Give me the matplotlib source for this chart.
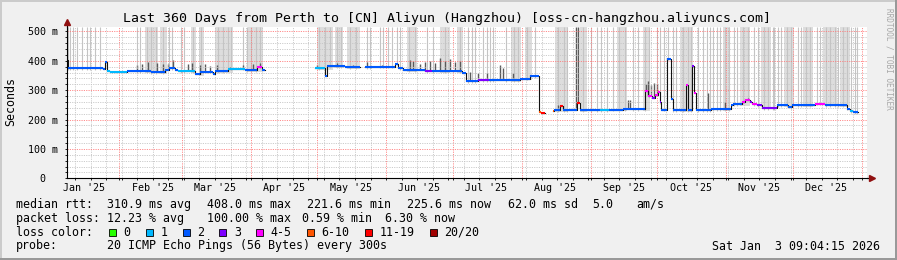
import numpy as np
import pandas as pd
import matplotlib
matplotlib.use('Agg')
import matplotlib.pyplot as plt
import matplotlib.dates as mdates
from matplotlib.ticker import MultipleLocator, FuncFormatter, NullFormatter
from matplotlib.patches import Rectangle

plt.rcParams['font.family'] = 'DejaVu Sans Mono'

W, H = 897, 260

start = pd.Timestamp('2025-01-08 09:04:15')
end = pd.Timestamp('2026-01-03 09:04:15')

# median rtt (ms), stepwise: day offset from start, value, loss class (index into loss colours)
med_day = [0.0, 0.5, 16.2, 17.1, 18.0, 19.4, 27.0, 38.0, 44.1, 46.0,
           48.6, 50.0, 57.6, 59.9, 65.7, 66.6, 72.5, 80.1, 85.5, 87.8, 89.1,
           111.6, 116.1, 117.0, 125.1, 131.9, 134.1, 140.0, 147.6, 149.0, 151.2,
           161.1, 164.3, 177.8, 179.6, 185.0, 190.0, 203.9, 208.4, 212.2, 212.6, 213.5, 215.1,
           218.7, 219.2, 221.9, 223.2, 228.6, 229.5, 230.9, 239.9, 244.0, 250.0, 260.1,
           261.5, 263.3, 264.6, 265.9, 266.9, 267.3, 270.2, 271.6, 272.5, 278.4,
           279.3, 281.4, 282.2, 282.9, 290.0, 298.7, 299.5, 303.8, 305.1, 307.4,
           308.3, 310.5, 312.8, 319.5, 324.5, 326.3, 327.6, 336.6, 341.1, 350.9,
           352.4, 353.8, 355.9]
med_ms = [401, 375, 371, 396, 365, 363, 364, 362, 368, 375,
          369, 364, 354, 362, 356, 365, 373, 369, 378, 370, np.nan,
          376, 348, 382, 379, np.nan, 378, 380, 390, 376, 369,
          366, 364, 358, 331, 333, 334, 339, 347, 268, 226, 223, np.nan,
          228, 231, 246, 231, 233, 257, 231, 233, 234, 235, 296,
          280, 272, 285, 293, 259, 234, 407, 271, 231, 316,
          231, 381, 290, 233, 235, 248, 252, 260, 268, 259,
          252, 250, 239, 248, 243, 248, 250, 254, 250, 237,
          228, 225, np.nan]
med_loss = [4, 2, 2, 2, 1, 1, 2, 2, 2, 2,
            2, 1, 2, 2, 2, 2, 1, 2, 4, 2, 0,
            1, 2, 2, 2, 0, 2, 2, 2, 2, 2,
            3, 2, 2, 2, 3, 2, 2, 2, 3, 5, 6, 0,
            5, 2, 6, 2, 2, 6, 2, 1, 2, 2, 4,
            4, 3, 4, 4, 3, 2, 2, 2, 2, 4,
            2, 3, 4, 2, 2, 2, 2, 4, 4, 3,
            4, 3, 3, 2, 2, 2, 2, 4, 2, 2,
            1, 2, 0]

# light smoke reaching the top of the graph (day ranges)
band_start = [35.1, 41.9, 55.8, 59.4, 66.6, 81.5,
              112.5, 120.6, 126.0, 153.0, 167.9, 175.5, 199.8, 206.1,
              219.6, 230.9, 247.5, 259.2, 275.9, 295.2, 302.9, 312.3, 322.7, 331.2, 340.2, 347.9]
band_end = [41.0, 45.0, 58.0, 61.6, 74.7, 88.2,
            119.7, 124.2, 131.9, 157.5, 172.4, 178.2, 204.3, 209.3,
            225.5, 234.0, 252.0, 262.4, 281.7, 298.4, 307.4, 316.8, 327.2, 335.7, 346.5, 352.4]
smoke_line_day = [0.6, 1.3, 2.7, 4.5, 6.8, 9.0, 10.4, 12.6, 14.9, 31.5, 32.8, 36.0, 38.0,
                  40.0, 43.0, 46.0, 47.2, 51.3, 52.6, 56.5, 60.5, 68.0, 70.0, 72.5, 74.0,
                  79.2, 80.8, 83.0, 85.0, 87.0,
                  113.5, 116.0, 118.5, 121.5, 123.5, 127.5, 130.0, 135.0, 136.4, 141.0,
                  142.2, 144.5, 146.3, 148.5, 149.9, 154.0, 156.5, 162.0, 164.7, 170.0,
                  177.0, 180.5, 182.3, 183.5, 187.2, 189.0, 190.4, 191.7, 197.6, 201.0,
                  203.0, 207.0, 210.6,
                  221.0, 223.5, 225.0, 232.0, 236.0, 238.5, 240.5, 243.0, 245.5, 248.5,
                  251.0, 254.7, 257.0, 260.0, 262.0, 265.5, 266.9, 268.5, 270.5, 272.7,
                  274.0, 277.0, 279.5, 281.0, 284.0, 286.2, 288.0, 289.4, 290.7, 292.5,
                  294.0, 296.0, 298.0, 300.0, 301.5, 304.0, 306.5, 309.0, 311.0, 313.5,
                  315.5, 317.5, 318.2, 320.0, 321.5, 324.0, 326.0, 329.0, 330.5, 332.5,
                  334.5, 337.5, 339.0, 341.5, 343.5, 345.5, 347.0, 349.0, 351.0, 353.0,
                  354.5, 355.5]

# darker smoke just above the median (day, top in ms)
dark_day = [31.5, 33.8, 36.5, 40.5, 43.2, 45.5, 47.7, 54.5, 56.3, 59.9, 62.1, 64.4,
            67.5, 73.4, 79.2, 83.7, 86.9,
            112.5, 114.8, 121.5, 123.8, 128.7, 135.0, 141.8, 148.5, 154.4, 155.7,
            158.9, 161.1, 163.4, 165.6, 167.9, 170.1, 172.4, 174.6, 176.9, 181.4,
            185.0, 189.0, 194.9, 196.2, 200.7, 208.4,
            220.9, 229.2, 229.8, 252.5, 253.4, 260.6, 261.5, 262.8, 264.2, 265.5,
            288.5, 296.1, 305.1, 306.5]
dark_top = [385, 388, 395, 392, 390, 388, 401, 388, 394, 385, 388, 382,
            385, 380, 385, 388, 391,
            384, 380, 392, 385, 385, 396, 385, 394, 401, 398,
            390, 395, 400, 392, 408, 398, 405, 395, 400, 361,
            357, 357, 384, 375, 360, 350,
            250, 515, 515, 265, 268, 322, 330, 318, 325, 320,
            292, 259, 271, 272]

loss_colors = ['#26ff00', '#00b8ff', '#0059ff', '#7e00ff', '#ff00ff', '#ff5500', '#ff0000', '#a10000']
loss_labels = ['0', '1', '2', '3', '4-5', '6-10', '11-19', '20/20']

month_labels = ["Jan '25", "Feb '25", "Mar '25", "Apr '25", "May '25", "Jun '25",
                "Jul '25", "Aug '25", "Sep '25", "Oct '25", "Nov '25", "Dec '25"]

rtt_stats = ['310.9 ms avg', '408.0 ms max', '221.6 ms min', '225.6 ms now', '62.0 ms sd', '5.0', 'am/s']
loss_stats = ['12.23 % avg', '100.00 % max', '0.59 % min', '6.30 % now']

YTOP = 515

fig = plt.figure(figsize=(W / 100, H / 100), dpi=100, facecolor='#f0f0f0')
ax = fig.add_axes([67 / W, 1 - 178.3 / H, 800 / W, 151.3 / H])
ax.set_facecolor('white')

t0 = mdates.date2num(start)
day = np.asarray(med_day)
ms = np.asarray(med_ms, dtype=float)
x = t0 + day


def median_at(d):
    i = np.searchsorted(day, d, side='right') - 1
    return ms[max(i, 0)]


# smoke
bs = np.asarray(band_start)
be = np.asarray(band_end)
bbase = np.array([median_at(d) for d in bs]) - 6
ax.bar(t0 + bs, YTOP - bbase, width=be - bs, bottom=bbase, align='edge',
       color='#dddddd', lw=0, zorder=1)
ld = np.asarray(smoke_line_day)
lbase = np.array([median_at(d) for d in ld]) - 6
ax.vlines(t0 + ld, lbase, YTOP, colors='#c4c4c4', lw=0.8, zorder=1.2)
dd = np.asarray(dark_day)
dbase = np.array([median_at(d) for d in dd])
ax.vlines(t0 + dd, dbase, dark_top, colors='#5a5a5a', lw=1.0, zorder=2)

# median line
ax.step(x, ms, where='post', color='#111111', lw=0.8, zorder=4)
ok = ~np.isnan(ms[:-1])
ax.hlines(ms[:-1][ok], x[:-1][ok], x[1:][ok],
          colors=[loss_colors[k] for k in np.asarray(med_loss[:-1])[ok]],
          lw=1.5, zorder=5)

ax.set_xlim(t0, mdates.date2num(end))
ax.set_ylim(0, YTOP)

ax.xaxis.set_major_locator(mdates.MonthLocator())
ax.xaxis.set_minor_locator(mdates.WeekdayLocator(byweekday=mdates.SU))
ax.xaxis.set_major_formatter(NullFormatter())
ax.yaxis.set_major_locator(MultipleLocator(100))
ax.yaxis.set_minor_locator(MultipleLocator(20))
ax.yaxis.set_major_formatter(FuncFormatter(lambda v, p: '0  ' if v == 0 else f'{int(v)} m'))

ax.set_axisbelow(False)
ax.grid(which='major', color='#ff7a7a', ls=(0, (1.4, 1.4)), lw=0.6)
ax.grid(which='minor', color='#c4c4c4', ls=(0, (1.4, 1.4)), lw=0.6)
ax.tick_params(which='both', length=1.5, width=0.6, color='black', direction='out',
               labelsize=7.2, pad=4.8)

for s in ['top', 'right']:
    ax.spines[s].set_visible(False)
for s in ['left', 'bottom']:
    ax.spines[s].set_color('black')
    ax.spines[s].set_linewidth(0.8)
    ax.spines[s].set_zorder(6)

# axis arrows
ax.plot([1.0, 1.004], [0, 0], color='black', lw=0.8, transform=ax.transAxes, clip_on=False)
ax.plot(1.006, 0, marker='>', ms=4, color='#901010', transform=ax.transAxes, clip_on=False)
ax.plot([0, 0], [1.0, 1.02], color='black', lw=0.8, transform=ax.transAxes, clip_on=False)
ax.plot(0, 1.03, marker='^', ms=4, color='#901010', transform=ax.transAxes, clip_on=False)

label_days = pd.date_range('2025-01-01', periods=12, freq='MS') + pd.Timedelta(days=15)
for d, lab in zip(label_days, month_labels):
    ax.text(mdates.date2num(d), -0.062, lab, transform=ax.get_xaxis_transform(),
            ha='center', va='center', fontsize=7.2)

fig.text(447 / W, 1 - 18.7 / H,
         'Last 360 Days from Perth to [CN] Aliyun (Hangzhou) [oss-cn-hangzhou.aliyuncs.com]',
         ha='center', va='center', fontsize=9.5)
fig.text(10.5 / W, 1 - 101 / H, 'Seconds', rotation=90, ha='center', va='center', fontsize=8.4)
fig.text(889 / W, 1 - 59 / H, 'RRDTOOL / TOBI OETIKER', rotation=270, ha='center', va='center',
         fontsize=5.6, color='#a8a8a8')

# legend
lx = 16 / W
fs = 8.4
row_y = [204.3, 218.3, 232.3, 246.0]
fig.text(lx, 1 - row_y[0] / H, 'median rtt:', va='center', fontsize=fs)
for px, s in zip([107, 206.7, 306.7, 407.3, 507.7, 592, 636], rtt_stats):
    fig.text(px / W, 1 - row_y[0] / H, s, va='center', fontsize=fs)
fig.text(lx, 1 - row_y[1] / H, 'packet loss:', va='center', fontsize=fs)
for px, s in zip([107.3, 206.7, 302, 385], loss_stats):
    fig.text(px / W, 1 - row_y[1] / H, s, va='center', fontsize=fs)
fig.text(lx, 1 - row_y[2] / H, 'loss color:', va='center', fontsize=fs)
box_x = [109, 145.7, 182.7, 219.3, 256, 306.7, 365, 430]
for bx, c, lab in zip(box_x, loss_colors, loss_labels):
    fig.add_artist(Rectangle((bx / W, 1 - 236 / H), 7 / W, 7 / H, transform=fig.transFigure,
                             facecolor=c, edgecolor='black', lw=0.6))
    fig.text((bx + 14.5) / W, 1 - row_y[2] / H, lab, va='center', fontsize=fs)
fig.text(lx, 1 - row_y[3] / H, 'probe:', va='center', fontsize=fs)
fig.text(107.3 / W, 1 - row_y[3] / H, '20 ICMP Echo Pings (56 Bytes) every 300s', va='center', fontsize=fs)
fig.text(880 / W, 1 - row_y[3] / H, 'Sat Jan  3 09:04:15 2026', ha='right', va='center', fontsize=fs)

# 3d frame
fig.add_artist(Rectangle((0, 1 - 2 / H), 1, 2 / H, transform=fig.transFigure, color='#cbcbcb', lw=0))
fig.add_artist(Rectangle((0, 0), 2 / W, 1, transform=fig.transFigure, color='#cbcbcb', lw=0))
fig.add_artist(Rectangle((0, 0), 1, 2 / H, transform=fig.transFigure, color='#999999', lw=0))
fig.add_artist(Rectangle((1 - 2 / W, 0), 2 / W, 1, transform=fig.transFigure, color='#999999', lw=0))

fig.savefig('out.png', dpi=100, facecolor=fig.get_facecolor())
